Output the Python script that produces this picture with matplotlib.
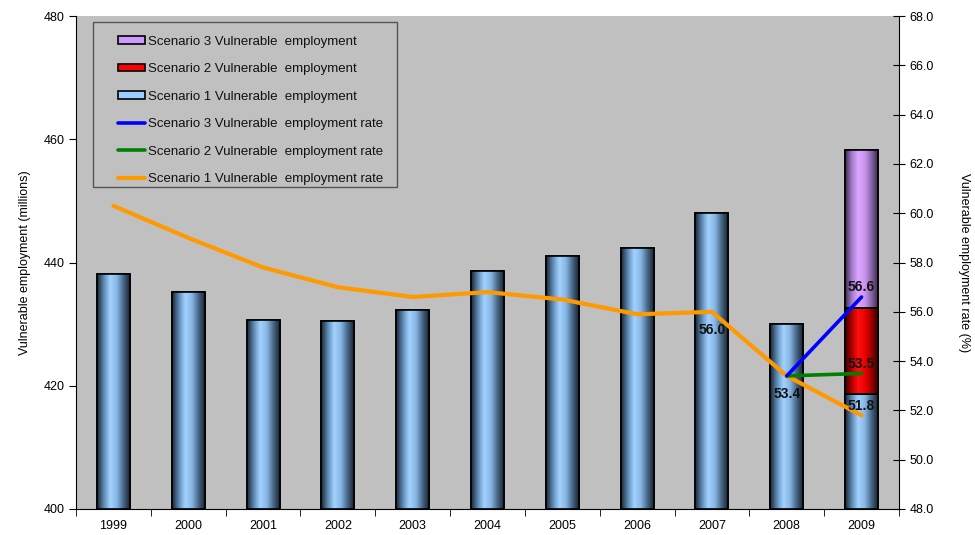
import numpy as np
import matplotlib
matplotlib.use("Agg")
import matplotlib.pyplot as plt
from matplotlib.colors import LinearSegmentedColormap
from matplotlib.patches import Rectangle

plt.rcParams['font.family'] = ['Liberation Sans', 'DejaVu Sans']

# data
years = ['1999', '2000', '2001', '2002', '2003', '2004', '2005', '2006', '2007', '2008', '2009']
emp_s1 = [438.1, 435.2, 430.7, 430.5, 432.3, 438.6, 441.1, 442.4, 448.0, 430.0, 418.7]
emp_s2_2009 = 432.6
emp_s3_2009 = 458.3
rate_s1 = [60.3, 59.0, 57.8, 57.0, 56.6, 56.8, 56.5, 55.9, 56.0, 53.4, 51.8]
rate_s2 = [53.4, 53.5]   # 2008-2009
rate_s3 = [53.4, 56.6]   # 2008-2009
labelled = {'2007': 56.0, '2008': 53.4}

x = np.arange(len(years))
bar_w = 0.44
base = 400

fig = plt.figure(figsize=(9.75, 5.35), dpi=100)
ax = fig.add_axes([0.078, 0.0486, 0.844, 0.9214])
ax.set_facecolor('#C0C0C0')
ax2 = ax.twinx()


def gradient_bars(bars, colors):
    cmap = LinearSegmentedColormap.from_list('g', colors)
    grad = np.linspace(0, 1, 64).reshape(1, -1)
    for b in bars:
        x0, y0 = b.get_x(), b.get_y()
        im = ax.imshow(grad, extent=[x0, x0 + b.get_width(), y0, y0 + b.get_height()],
                       aspect='auto', cmap=cmap, zorder=2.1, interpolation='bicubic')
        im.set_clip_path(b)


blue_cols = ['#1c2633', '#5d88b3', '#a2d2ff', '#8ab8e6', '#4a6b8c', '#1c2633']
red_cols = ['#3a0000', '#b00000', '#ff1010', '#f00000', '#a00000', '#3a0000']
purp_cols = ['#3d2d4d', '#a47acc', '#dba6ff', '#cc95f2', '#8a66aa', '#3d2d4d']

b1 = ax.bar(x, np.array(emp_s1) - base, bottom=base, width=bar_w, color='#99CCFF',
            edgecolor='black', lw=1.2, zorder=2, label='Scenario 1 Vulnerable  employment')
b2 = ax.bar(x[-1], emp_s2_2009 - emp_s1[-1], bottom=emp_s1[-1], width=bar_w, color='#FF0000',
            edgecolor='black', lw=1.2, zorder=2, label='Scenario 2 Vulnerable  employment')
b3 = ax.bar(x[-1], emp_s3_2009 - emp_s2_2009, bottom=emp_s2_2009, width=bar_w, color='#CC99FF',
            edgecolor='black', lw=1.2, zorder=2, label='Scenario 3 Vulnerable  employment')
gradient_bars(b1, blue_cols)
gradient_bars(b2, red_cols)
gradient_bars(b3, purp_cols)
# outlines on top of the gradients
ax.bar(x, np.array(emp_s1) - base, bottom=base, width=bar_w, fill=False, edgecolor='black', lw=1.2, zorder=2.2)
ax.bar(x[-1], emp_s2_2009 - emp_s1[-1], bottom=emp_s1[-1], width=bar_w, fill=False, edgecolor='black', lw=1.2, zorder=2.2)
ax.bar(x[-1], emp_s3_2009 - emp_s2_2009, bottom=emp_s2_2009, width=bar_w, fill=False, edgecolor='black', lw=1.2, zorder=2.2)

ax.set_xlim(-0.5, len(years) - 0.5)
ax.set_ylim(400, 480)
ax.set_yticks(np.arange(400, 481, 20))
ax.set_xticks(x)
ax.set_xticklabels(years)
ax.set_xticks(np.arange(-0.5, len(years), 1), minor=True)
ax.tick_params(axis='x', which='major', length=0, pad=8, labelsize=9)
ax.tick_params(axis='x', which='minor', length=5, direction='out')
ax.tick_params(axis='y', length=5, direction='out', labelsize=9)
ax.set_ylabel('Vulnerable employment (millions)', fontsize=9, labelpad=9)
ax.spines['top'].set_visible(False)
ax.spines['right'].set_visible(False)

# rate lines
l1, = ax2.plot(x, rate_s1, color='#FF9900', lw=3, zorder=3, solid_capstyle='round',
               label='Scenario 1 Vulnerable  employment rate')
l2, = ax2.plot(x[-2:], rate_s2, color='#008000', lw=2.6, zorder=3.1, solid_capstyle='round',
               label='Scenario 2 Vulnerable  employment rate')
l3, = ax2.plot(x[-2:], rate_s3, color='#0000FF', lw=2.6, zorder=3.2, solid_capstyle='round',
               label='Scenario 3 Vulnerable  employment rate')
ax2.set_ylim(48, 68)
ax2.set_yticks(np.arange(48, 68.1, 2))
ax2.set_yticklabels(['%.1f' % v for v in np.arange(48, 68.1, 2)])
ax2.tick_params(axis='y', length=8, direction='inout', labelsize=9)
ax2.set_ylabel('Vulnerable employment rate (%)', fontsize=9, rotation=270, labelpad=26)
ax2.spines['top'].set_visible(False)
ax2.spines['left'].set_visible(False)
ax2.spines['bottom'].set_visible(False)

# data labels
lab_kw = dict(ha='center', fontsize=10, fontweight='bold', color='#111111', zorder=5)
for yr, v in labelled.items():
    ax2.annotate('%.1f' % v, (years.index(yr), v), xytext=(0, -13), textcoords='offset points',
                 va='center', **lab_kw)
for v in [rate_s1[-1], rate_s2[-1], rate_s3[-1]]:
    ax2.annotate('%.1f' % v, (x[-1], v), xytext=(0, 7), textcoords='offset points',
                 va='center', **lab_kw)

# legend frame drawn by hand for the wider left margin
ax2.add_patch(Rectangle((0.0207, 0.653), 0.369, 0.335, transform=ax2.transAxes,
                        facecolor='#C0C0C0', edgecolor='#555555', lw=1, zorder=4))
leg = ax2.legend([b3, b2, b1, l3, l2, l1],
                 [b3.get_label(), b2.get_label(), b1.get_label(),
                  l3.get_label(), l2.get_label(), l1.get_label()],
                 loc='upper left', bbox_to_anchor=(0.051, 0.960), borderaxespad=0,
                 fontsize=9.5, labelspacing=1.17, handlelength=2.05, handleheight=0.5,
                 handletextpad=0.2, borderpad=0, frameon=False)
leg.set_zorder(6)
for t in leg.get_texts():
    t.set_color('#111111')

plt.savefig('out.png', dpi=100)
